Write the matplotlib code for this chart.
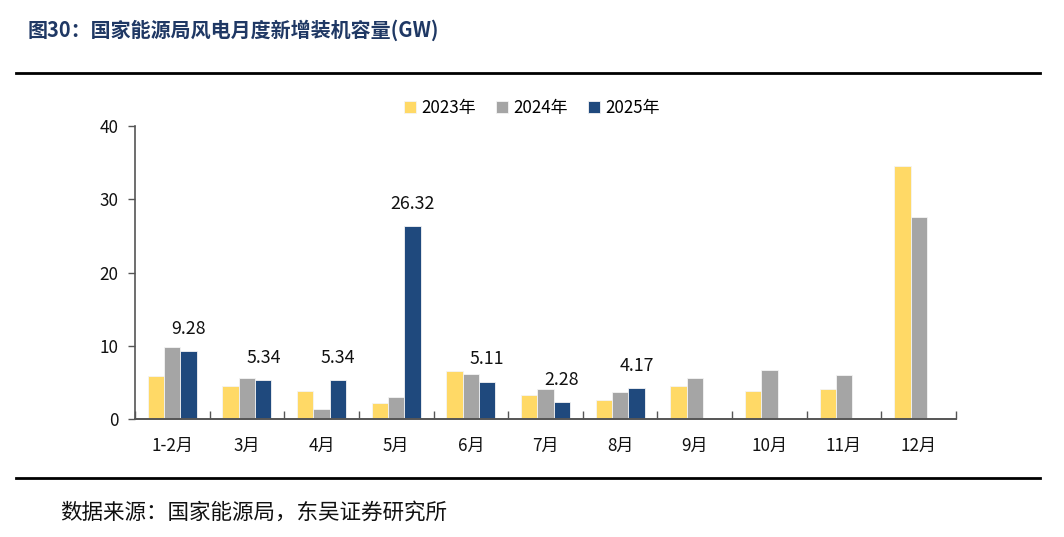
import numpy as np
import matplotlib
matplotlib.use("Agg")
import matplotlib.pyplot as plt
from matplotlib.lines import Line2D

plt.rcParams['font.family'] = ['Noto Sans CJK SC', 'DejaVu Sans']

# data (GW)
months = ['1-2月', '3月', '4月', '5月', '6月', '7月', '8月', '9月', '10月', '11月', '12月']
y2023 = [5.87, 4.55, 3.82, 2.18, 6.6, 3.32, 2.6, 4.55, 3.82, 4.1, 34.5]
y2024 = [9.87, 5.6, 1.37, 2.96, 6.1, 4.1, 3.69, 5.55, 6.69, 5.96, 27.6]
y2025 = [9.28, 5.34, 5.34, 26.32, 5.11, 2.28, 4.17]
series_names = ['2023年', '2024年', '2025年']

c23 = '#FFD966'
c24 = '#A5A5A5'
c25 = '#1F497D'

fig = plt.figure(figsize=(10.64, 5.37), dpi=100)
ax = fig.add_axes([135 / 1064, 1 - 419 / 537, (956 - 135) / 1064, (419 - 126) / 537])

x = np.arange(len(months))
w = 0.219
ax.bar(x - w, y2023, w, color=c23, edgecolor='#f4f4f4', linewidth=0.6, label=series_names[0])
ax.bar(x, y2024, w, color=c24, edgecolor='#f4f4f4', linewidth=0.6, label=series_names[1])
x25 = x[:len(y2025)] + w
ax.bar(x25, y2025, w, color=c25, edgecolor='#f4f4f4', linewidth=0.6, label=series_names[2])

# labels on 2025 bars
for xi, v in zip(x25, y2025):
    ax.annotate('%.2f' % v, (xi, v), xytext=(0, 16), textcoords='offset points',
                ha='center', va='center', fontsize=12.8, color='#111111')

ax.set_xlim(-0.5, len(months) - 0.5)
ax.set_ylim(0, 40)
ax.set_yticks([0, 10, 20, 30, 40])
ax.tick_params(axis='y', labelsize=12.3, length=5, width=1, color='#555555', pad=7, labelcolor='#111111')

# category labels in the middle, tick marks at the boundaries
ax.set_xticks(x)
ax.set_xticklabels(months)
ax.tick_params(axis='x', which='major', length=0, labelsize=12.3, pad=13, labelcolor='#111111')
ax.set_xticks(np.arange(-0.5, len(months), 1.0), minor=True)
ax.tick_params(axis='x', which='minor', direction='in', length=6, width=1, color='#555555')

for s in ['top', 'right']:
    ax.spines[s].set_visible(False)
ax.spines['left'].set_color('#555555')
ax.spines['bottom'].set_color('#555555')
ax.spines['left'].set_linewidth(1.2)
ax.spines['bottom'].set_linewidth(1.4)

leg = ax.legend(loc='center', bbox_to_anchor=(532 / 1064, 1 - 108 / 537),
                bbox_transform=fig.transFigure, ncol=3, frameon=False,
                fontsize=12.2, handlelength=0.7, handleheight=0.7,
                handletextpad=0.3, columnspacing=1.2)

# title, rules and source
fig.text(28 / 1064, 1 - 30 / 537, '图30：国家能源局风电月度新增装机容量(GW)',
         fontsize=14.4, fontweight='bold', color='#1F3864', va='center', ha='left')
fig.add_artist(Line2D([16 / 1064, 1040 / 1064], [1 - 73 / 537, 1 - 73 / 537],
                      color='black', linewidth=2, transform=fig.transFigure))
fig.add_artist(Line2D([16 / 1064, 1040 / 1064], [1 - 478 / 537, 1 - 478 / 537],
                      color='black', linewidth=2, transform=fig.transFigure))
fig.text(60 / 1064, 1 - 513 / 537, '数据来源：国家能源局，东吴证券研究所',
         fontsize=15.5, color='#111111', va='center', ha='left')

fig.savefig('out.png', dpi=100)
